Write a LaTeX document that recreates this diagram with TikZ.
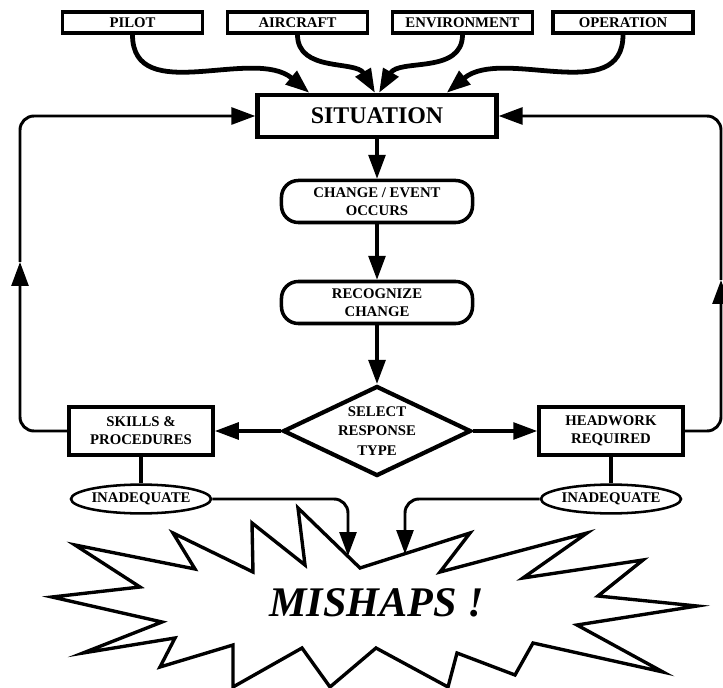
\documentclass[tikz,border=0pt]{standalone}
\usepackage{fontspec}
\setmainfont{Liberation Serif}
\usetikzlibrary{arrows.meta}
\usetikzlibrary{shapes.geometric}

\tikzset{
  topbox/.style={draw=black,line width=2.4pt,minimum width=3.5cm,minimum height=0.525cm,inner sep=0pt,font=\bfseries\fontsize{10.5}{12}\selectfont},
  sitbox/.style={draw=black,line width=3pt,minimum width=5.975cm,minimum height=1.05cm,inner sep=0pt,font=\bfseries\fontsize{17}{20}\selectfont},
  eventbox/.style={draw=black,line width=2.5pt,rounded corners=0.42cm,minimum width=4.775cm,minimum height=1.05cm,inner sep=0pt,align=center,font=\bfseries\fontsize{10.5}{12.8}\selectfont},
  decision/.style={draw=black,line width=3pt,diamond,shape aspect=2.09,minimum width=4.7cm,minimum height=2.25cm,inner sep=0pt,align=center,font=\bfseries\fontsize{10.5}{14}\selectfont},
  respbox/.style={draw=black,line width=2.6pt,minimum width=3.6cm,minimum height=1.2cm,inner sep=0pt,align=center,font=\bfseries\fontsize{10.5}{12.8}\selectfont},
  outcome/.style={draw=black,line width=1.8pt,ellipse,minimum width=3.35cm,minimum height=0.72cm,inner sep=0pt,font=\bfseries\fontsize{10.5}{12}\selectfont},
  feed/.style={draw=black,line width=3.4pt},
  flow/.style={draw=black,line width=2.2pt},
  loopline/.style={draw=black,line width=2.1pt,rounded corners=0.35cm}
}

\begin{document}
\begin{tikzpicture}[x=0.025cm,y=-0.025cm,>={Triangle[length=17pt,width=12pt]}]
\useasboundingbox (0,0) rectangle (723,688);

\node[topbox] (pilot) at (132.5,22.5) {PILOT};
\node[topbox] (aircraft) at (297.5,22.5) {AIRCRAFT};
\node[topbox] (environment) at (462.5,22.5) {ENVIRONMENT};
\node[topbox] (operation) at (623,22.5) {OPERATION};

\node[sitbox] (situation) at (377,116) {SITUATION};
\node[eventbox] (change) at (377,201.5) {CHANGE / EVENT\\OCCURS};
\node[eventbox] (recognize) at (377,302.5) {RECOGNIZE\\CHANGE};
\node[decision] (select) at (377,431) {SELECT\\RESPONSE\\TYPE};
\node[respbox] (skills) at (141,431) {SKILLS \&\\PROCEDURES};
\node[respbox] (headwork) at (611,431) {HEADWORK\\REQUIRED};
\node[outcome] (inadL) at (141,499) {INADEQUATE};
\node[outcome] (inadR) at (611,499) {INADEQUATE};

\draw[feed,->] (pilot.south) to[out=-90,in=140] ([xshift=-1.69cm]situation.north);
\draw[feed,->] (aircraft.south) to[out=-90,in=120] ([xshift=-0.05cm]situation.north);
\draw[feed,->] (environment.south) to[out=-90,in=60] ([xshift=0.05cm]situation.north);
\draw[feed,->] (operation.south) to[out=-90,in=40] ([xshift=1.74cm]situation.north);

\draw[flow,->] (situation.south) -- (change.north);
\draw[flow,->] (change.south) -- (recognize.north);
\draw[flow,->] (recognize.south) -- (select.north);
\draw[flow,->] (select.west) -- (skills.east);
\draw[flow,->] (select.east) -- (headwork.west);

\coordinate (upL) at (20,262);
\coordinate (upR) at (721,280);
\draw[loopline,->] (skills.west) -| (upL);
\draw[loopline,->] (upL) |- (situation.west);
\draw[loopline,->] (headwork.east) -| (upR);
\draw[loopline,->] (upR) |- (situation.east);

\draw[flow] (skills.south) -- (inadL.north);
\draw[flow] (headwork.south) -- (inadR.north);

\draw[black,line width=2.4pt] (75,545) -- (195,569) -- (173,533) -- (253,572) -- (252,523) -- (305,565) -- (298,508) -- (360,568)
  -- (470,533) -- (440,572) -- (587,533) -- (523,578) -- (643,560) -- (598,596) -- (697,606) -- (577,625) -- (663,672)
  -- (533,643) -- (515,675) -- (457,653) -- (448,687) -- (376,648) -- (330,687) -- (302,648) -- (233,687) -- (233,645)
  -- (160,667) -- (175,638) -- (83,653) -- (162,622) -- (52,597) -- (140,587) -- cycle;
\node[font=\bfseries\itshape\fontsize{30}{36}\selectfont] (mishaps) at (376.5,603) {MISHAPS !};

\coordinate (hitL) at (348,556);
\coordinate (hitR) at (405,554);
\draw[loopline,->] (inadL.east) -| (hitL);
\draw[loopline,->] (inadR.west) -| (hitR);

\end{tikzpicture}
\end{document}
